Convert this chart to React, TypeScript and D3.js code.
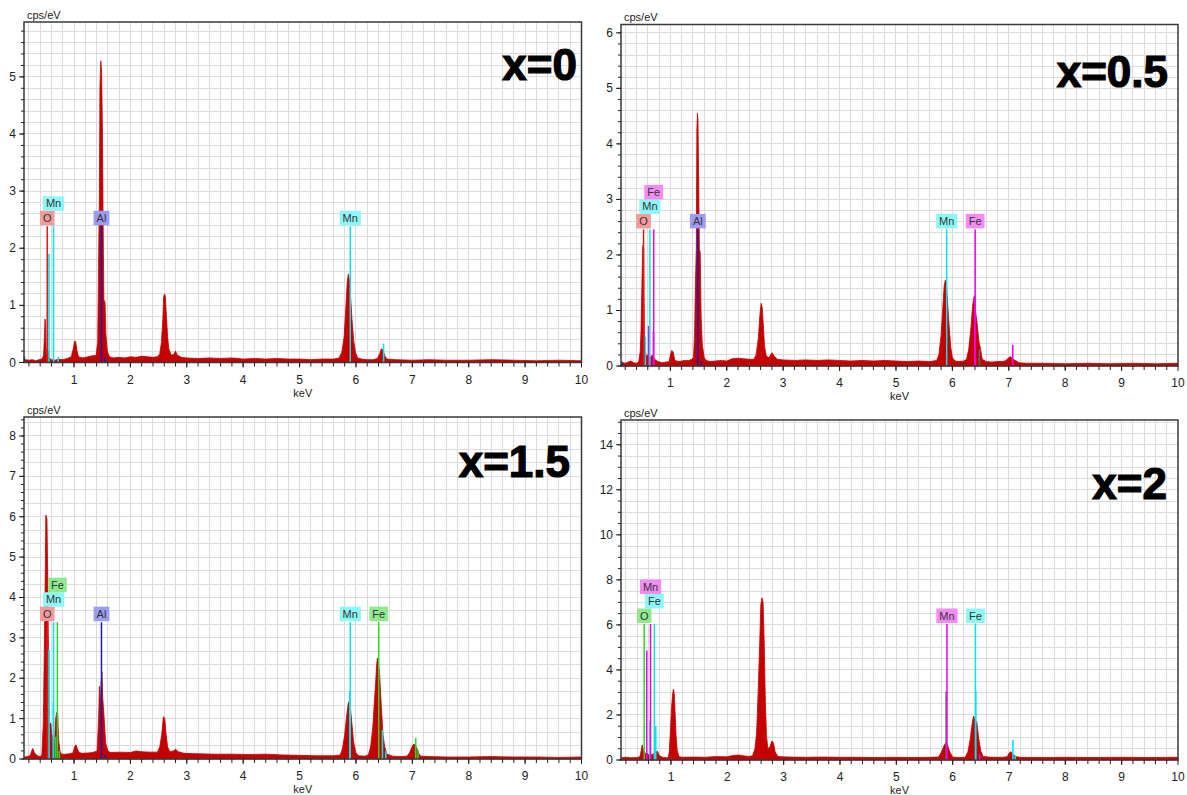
import React from "react";
import * as d3 from "d3";

type Pt = [number, number];
type Fit = [string, number, number];
type Mark = [string, number, number];

// ---- spectra: [keV, cps/eV] ----
const S0: Pt[] = [[0.113,0.02],[0.14,0.05],[0.2,0.04],[0.26,0.05],[0.32,0.03],[0.38,0.05],[0.43,0.06],[0.46,0.12],[0.475,0.45],[0.485,0.76],[0.495,0.7],[0.505,0.25],[0.52,0.12],[0.54,0.22],[0.56,0.08],[0.6,0.05],[0.66,0.04],[0.72,0.06],[0.8,0.05],[0.88,0.07],[0.95,0.1],[0.99,0.25],[1.01,0.38],[1.03,0.36],[1.05,0.22],[1.08,0.1],[1.15,0.08],[1.25,0.1],[1.33,0.12],[1.39,0.12],[1.42,0.35],[1.435,1.7],[1.45,2.9],[1.46,4.84],[1.475,5.28],[1.49,5.08],[1.505,3.95],[1.52,2.0],[1.53,1.1],[1.55,1.05],[1.565,0.5],[1.59,0.2],[1.63,0.1],[1.7,0.08],[1.8,0.09],[1.9,0.08],[2.0,0.1],[2.1,0.09],[2.2,0.11],[2.3,0.1],[2.4,0.09],[2.48,0.1],[2.52,0.15],[2.55,0.35],[2.575,0.75],[2.59,1.15],[2.605,1.2],[2.62,1.15],[2.64,0.8],[2.66,0.45],[2.68,0.25],[2.72,0.13],[2.77,0.14],[2.8,0.2],[2.83,0.13],[2.9,0.09],[3.0,0.08],[3.2,0.07],[3.4,0.08],[3.6,0.07],[3.8,0.08],[4.0,0.06],[4.2,0.07],[4.4,0.06],[4.6,0.07],[4.8,0.06],[5.0,0.06],[5.2,0.05],[5.4,0.06],[5.6,0.06],[5.7,0.08],[5.75,0.18],[5.79,0.45],[5.82,0.95],[5.845,1.4],[5.865,1.55],[5.885,1.45],[5.905,1.15],[5.93,0.75],[5.96,0.38],[5.99,0.18],[6.03,0.08],[6.1,0.06],[6.2,0.05],[6.3,0.05],[6.38,0.07],[6.42,0.15],[6.45,0.24],[6.48,0.22],[6.51,0.12],[6.55,0.06],[6.7,0.05],[7.0,0.04],[7.3,0.05],[7.6,0.04],[8.0,0.04],[8.4,0.05],[8.8,0.04],[9.2,0.03],[9.6,0.04],[10,0.03]];

const S1: Pt[] = [[0.125,0.03],[0.16,0.06],[0.2,0.05],[0.25,0.07],[0.3,0.09],[0.35,0.06],[0.4,0.05],[0.44,0.08],[0.465,0.25],[0.48,0.63],[0.495,1.43],[0.51,2.15],[0.525,2.2],[0.54,0.5],[0.555,0.3],[0.57,0.18],[0.6,0.2],[0.64,0.15],[0.68,0.2],[0.72,0.12],[0.78,0.08],[0.85,0.06],[0.92,0.07],[0.98,0.08],[1.0,0.2],[1.025,0.28],[1.05,0.25],[1.08,0.1],[1.15,0.08],[1.25,0.1],[1.33,0.1],[1.38,0.12],[1.41,0.15],[1.43,0.6],[1.445,1.5],[1.46,2.1],[1.47,4.25],[1.48,4.55],[1.49,4.42],[1.5,3.5],[1.515,2.1],[1.53,2.05],[1.545,0.9],[1.565,0.4],[1.6,0.15],[1.64,0.1],[1.7,0.08],[1.8,0.09],[1.9,0.1],[2.0,0.09],[2.1,0.13],[2.2,0.14],[2.3,0.13],[2.4,0.12],[2.48,0.12],[2.52,0.2],[2.56,0.5],[2.59,0.95],[2.61,1.13],[2.63,1.05],[2.65,0.7],[2.67,0.35],[2.7,0.18],[2.75,0.15],[2.8,0.24],[2.84,0.18],[2.9,0.12],[3.0,0.11],[3.2,0.1],[3.4,0.11],[3.6,0.1],[3.8,0.11],[4.0,0.1],[4.2,0.09],[4.4,0.1],[4.6,0.09],[4.8,0.1],[5.0,0.09],[5.2,0.08],[5.4,0.09],[5.6,0.08],[5.72,0.1],[5.76,0.2],[5.8,0.55],[5.83,1.05],[5.855,1.45],[5.875,1.55],[5.895,1.45],[5.915,1.15],[5.94,0.75],[5.97,0.35],[6.0,0.15],[6.05,0.09],[6.12,0.08],[6.2,0.09],[6.25,0.12],[6.29,0.3],[6.33,0.7],[6.36,1.1],[6.385,1.25],[6.41,1.0],[6.44,0.75],[6.47,0.45],[6.5,0.3],[6.53,0.12],[6.6,0.08],[6.7,0.07],[6.8,0.08],[6.9,0.08],[6.95,0.1],[7.0,0.15],[7.03,0.17],[7.07,0.12],[7.12,0.1],[7.18,0.06],[7.3,0.05],[7.6,0.05],[8.0,0.04],[8.4,0.05],[8.8,0.04],[9.2,0.05],[9.6,0.04],[10,0.05]];

const S2: Pt[] = [[0.113,0.04],[0.16,0.06],[0.22,0.08],[0.25,0.2],[0.27,0.26],[0.3,0.15],[0.35,0.08],[0.4,0.06],[0.43,0.1],[0.456,0.92],[0.47,2.35],[0.49,4.5],[0.5,6.04],[0.52,5.95],[0.535,4.4],[0.55,2.2],[0.565,0.9],[0.59,0.88],[0.61,0.4],[0.625,0.6],[0.65,0.2],[0.67,0.95],[0.69,1.15],[0.71,1.15],[0.725,0.5],[0.75,0.2],[0.78,0.12],[0.85,0.12],[0.92,0.13],[0.98,0.15],[1.01,0.3],[1.035,0.35],[1.06,0.25],[1.09,0.16],[1.15,0.14],[1.25,0.15],[1.33,0.16],[1.41,0.2],[1.43,0.8],[1.44,1.15],[1.45,1.8],[1.465,1.2],[1.48,1.9],[1.495,2.16],[1.51,1.5],[1.525,1.2],[1.54,0.9],[1.56,0.4],[1.6,0.2],[1.65,0.16],[1.8,0.17],[2.0,0.16],[2.1,0.2],[2.2,0.18],[2.35,0.17],[2.48,0.17],[2.52,0.3],[2.555,0.6],[2.585,1.05],[2.61,1.0],[2.63,0.65],[2.66,0.3],[2.7,0.18],[2.76,0.2],[2.8,0.24],[2.85,0.18],[2.95,0.14],[3.2,0.13],[3.5,0.12],[3.8,0.12],[4.1,0.11],[4.4,0.12],[4.7,0.1],[5.0,0.09],[5.3,0.08],[5.6,0.08],[5.72,0.1],[5.76,0.25],[5.8,0.6],[5.83,1.0],[5.86,1.35],[5.875,1.42],[5.9,1.3],[5.93,0.85],[5.96,0.4],[6.0,0.15],[6.05,0.08],[6.15,0.07],[6.22,0.1],[6.26,0.3],[6.3,0.8],[6.33,1.5],[6.35,1.9],[6.365,2.3],[6.38,2.5],[6.4,2.4],[6.42,2.1],[6.45,1.3],[6.48,0.6],[6.51,0.3],[6.55,0.12],[6.65,0.07],[6.8,0.06],[6.9,0.07],[6.95,0.15],[7.0,0.32],[7.03,0.37],[7.07,0.3],[7.11,0.15],[7.15,0.07],[7.3,0.06],[7.6,0.05],[8.0,0.05],[8.4,0.06],[8.8,0.05],[9.2,0.05],[9.6,0.04],[10,0.05]];

const S3: Pt[] = [[0.113,0.1],[0.2,0.12],[0.3,0.1],[0.4,0.11],[0.45,0.15],[0.47,0.4],[0.49,0.67],[0.51,0.4],[0.54,0.3],[0.575,0.3],[0.62,0.2],[0.67,0.25],[0.72,0.3],[0.76,0.4],[0.79,0.2],[0.85,0.12],[0.92,0.1],[0.95,0.1],[0.97,0.35],[0.99,1.3],[1.01,2.3],[1.03,2.95],[1.045,3.15],[1.06,2.9],[1.075,2.0],[1.09,1.1],[1.11,0.45],[1.14,0.15],[1.2,0.12],[1.4,0.13],[1.6,0.12],[1.8,0.15],[2.0,0.14],[2.1,0.2],[2.2,0.22],[2.3,0.18],[2.4,0.16],[2.45,0.2],[2.49,0.5],[2.52,1.2],[2.55,3.2],[2.575,5.2],[2.595,6.9],[2.615,7.2],[2.635,7.0],[2.655,5.2],[2.675,2.6],[2.695,1.1],[2.72,0.5],[2.76,0.6],[2.79,0.84],[2.82,0.75],[2.85,0.35],[2.9,0.15],[3.1,0.13],[3.4,0.12],[3.7,0.13],[4.0,0.12],[4.3,0.12],[4.6,0.11],[5.0,0.12],[5.3,0.11],[5.6,0.12],[5.75,0.13],[5.8,0.35],[5.85,0.65],[5.88,0.77],[5.91,0.65],[5.95,0.35],[6.0,0.13],[6.1,0.11],[6.22,0.12],[6.27,0.35],[6.31,0.9],[6.34,1.5],[6.37,1.95],[6.4,1.8],[6.43,1.66],[6.46,1.0],[6.5,0.4],[6.54,0.15],[6.7,0.12],[6.9,0.12],[6.97,0.15],[7.0,0.3],[7.03,0.37],[7.07,0.25],[7.12,0.15],[7.2,0.12],[7.6,0.11],[8.0,0.12],[8.5,0.11],[9.0,0.12],[9.5,0.11],[10,0.12]];

// ---- fitted element lines: [element, keV, cps/eV] ----
const F0: Fit[] = [["Mn",0.556,1.9],["Mn",0.72,0.1],["Mn",6.49,0.33],["Al",0.12,0.1],["Al",1.55,0.1]];
const F1: Fit[] = [["Mn",0.556,0.53],["Fe",0.615,0.72],["Fe",0.7,0.62],["Fe",6.4,1.27],["X",6.48,0.3],["Fe",7.07,0.38],["Al",0.14,0.08],["Al",1.55,0.08]];
const F2: Fit[] = [["Mn",0.557,2.72],["Mn",0.633,1.4],["Fe",0.675,0.55],["Fe",0.74,0.2],["Mn",5.89,1.68],["Mn",6.47,0.72],["Mn",6.53,0.2],["Fe",7.06,0.52],["Fe",7.1,0.22],["Al",1.55,0.1]];
const F3: Fit[] = [["Mn",0.57,4.86],["Fe",0.628,1.75],["Fe",0.73,1.5],["X",5.885,3.04],["Fe",6.41,3.07],["Mn",6.48,0.25],["Fe",7.07,0.89],["Fe",7.11,0.2]];

// ---- element markers: [element, keV, stack level] ----
const M0: Mark[] = [["O",0.525,0],["Mn",0.637,1],["Al",1.487,0],["Mn",5.899,0]];
const M1: Mark[] = [["O",0.525,0],["Mn",0.637,1],["Fe",0.705,2],["Al",1.487,0],["Mn",5.899,0],["Fe",6.404,0]];
const M2: Mark[] = [["O",0.525,0],["Mn",0.637,1],["Fe",0.705,2],["Al",1.487,0],["Mn",5.899,0],["Fe",6.404,0]];
const M3: Mark[] = [["O",0.525,0],["Fe",0.705,1],["Mn",0.637,2],["Mn",5.899,0],["Fe",6.404,0]];

const X_TICKS = [1,2,3,4,5,6,7,8,9,10];
const Y_TICKS0 = [0,1,2,3,4,5];
const Y_TICKS1 = [0,1,2,3,4,5,6];
const Y_TICKS2 = [0,1,2,3,4,5,6,7,8];
const Y_TICKS3 = [0,2,4,6,8,10,12,14];
const TITLES = ["x=0","x=0.5","x=1.5","x=2"];

// ---- styles ----
const RED = { line: "#e01818", box: "#f39a9a" };
const CYAN = { line: "#00e6f0", box: "#8ef8f8" };
const BLUE = { line: "#1c1cb4", box: "#9c9cf2" };
const MAG = { line: "#f000f0", box: "#f38cf3" };
const GRN = { line: "#26dc26", box: "#8fea8f" };
const GRAY = { line: "#666666", box: "#cccccc" };

const CW: Record<string, number> = { O: 0.778, M: 0.833, n: 0.556, A: 0.667, l: 0.222, F: 0.611, e: 0.556 };

interface Cfg {
  left: number; right: number; top: number; bottom: number;
  xMin: number; yMax: number; yMinor: number; gridY: number;
  yTicks: number[]; spec: Pt[]; fits: Fit[]; marks: Mark[];
  colors: Record<string, { line: string; box: string }>;
  title: string; titleRight: number; titleBase: number;
}

const PANELS: Cfg[] = [
  { left: 24, right: 581.5, top: 22, bottom: 362.5, xMin: 0.113, yMax: 5.96, yMinor: 0.2, gridY: 0.2,
    yTicks: Y_TICKS0, spec: S0, fits: F0, marks: M0,
    colors: { O: RED, Mn: CYAN, Al: BLUE, X: GRAY }, title: TITLES[0], titleRight: 577, titleBase: 80 },
  { left: 621, right: 1178, top: 24.5, bottom: 366, xMin: 0.125, yMax: 6.15, yMinor: 0.2, gridY: 0.2,
    yTicks: Y_TICKS1, spec: S1, fits: F1, marks: M1,
    colors: { O: RED, Mn: CYAN, Fe: MAG, Al: BLUE, X: GRAY }, title: TITLES[1], titleRight: 1168, titleBase: 87 },
  { left: 24, right: 581.5, top: 417, bottom: 759, xMin: 0.113, yMax: 8.47, yMinor: 0.2, gridY: 1 / 3,
    yTicks: Y_TICKS2, spec: S2, fits: F2, marks: M2,
    colors: { O: RED, Mn: CYAN, Fe: GRN, Al: BLUE, X: GRAY }, title: TITLES[2], titleRight: 570, titleBase: 477 },
  { left: 621, right: 1178, top: 420, bottom: 760, xMin: 0.113, yMax: 15.1, yMinor: 0.5, gridY: 0.5,
    yTicks: Y_TICKS3, spec: S3, fits: F3, marks: M3,
    colors: { O: GRN, Mn: MAG, Fe: CYAN, X: GRAY }, title: TITLES[3], titleRight: 1167, titleBase: 499 },
];

const FONT = "'Liberation Sans', Arial, sans-serif";

function Panel({ c }: { c: Cfg }) {
  const x = d3.scaleLinear().domain([c.xMin, 10]).range([c.left, c.right]);
  const y = d3.scaleLinear().domain([0, c.yMax]).range([c.bottom, c.top]);
  const area = d3.area<Pt>().x(d => x(d[0])).y0(y(0)).y1(d => y(d[1])).curve(d3.curveLinear);

  const xs02 = d3.range(1, 50).map(i => +(i * 0.2).toFixed(3)).filter(v => v > c.xMin);
  const nGy = Math.floor(c.yMax / c.gridY + 1e-6);
  const gridYs = d3.range(1, nGy + 1).map(i => i * c.gridY).filter(v => v < c.yMax - 1e-6);
  const nMy = Math.floor(c.yMax / c.yMinor + 1e-6);
  const minorY = d3.range(0, nMy + 1).map(i => i * c.yMinor);
  const markVal = c.yMax * 0.4;
  const boxH = 14.5;

  return (
    <g>
      <g stroke="#dcdcdc" strokeWidth={1} shapeRendering="crispEdges">
        {xs02.map((v, i) => <line key={"gx" + i} x1={x(v)} x2={x(v)} y1={c.top} y2={c.bottom} />)}
        {gridYs.map((v, i) => <line key={"gy" + i} x1={c.left} x2={c.right} y1={y(v)} y2={y(v)} />)}
      </g>
      <path d={area(c.spec) || ""} fill="#c40000" stroke="#c40000" strokeWidth={0.8} />
      {c.fits.map((f, i) => (
        <line key={"f" + i} x1={x(f[1])} x2={x(f[1])} y1={y(0)} y2={y(f[2])}
          stroke={(c.colors[f[0]] || GRAY).line} strokeWidth={1.6} />
      ))}
      {c.marks.map((m, i) => (
        <line key={"m" + i} x1={x(m[1])} x2={x(m[1])} y1={y(0)} y2={y(markVal)}
          stroke={c.colors[m[0]].line} strokeWidth={1.5} />
      ))}
      {c.marks.map((m, i) => {
        const tw = m[0].split("").reduce((s, ch) => s + (CW[ch] || 0.6), 0) * 11;
        const w = tw + 6;
        const bb = y(markVal) - 1 - m[2] * boxH;
        const cx = x(m[1]);
        return (
          <g key={"b" + i}>
            <rect x={cx - w / 2} y={bb - boxH} width={w} height={boxH} fill={c.colors[m[0]].box} />
            <text x={cx} y={bb - 3.5} textAnchor="middle" fontSize={11} fontFamily={FONT} fill="#333">{m[0]}</text>
          </g>
        );
      })}
      <rect x={c.left} y={c.top} width={c.right - c.left} height={c.bottom - c.top} fill="none" stroke="#3a3a3a" strokeWidth={1.5} />
      <g stroke="#222" strokeWidth={1}>
        {minorY.map((v, i) => <line key={"my" + i} x1={c.left - 3} x2={c.left} y1={y(v)} y2={y(v)} />)}
        {c.yTicks.map((v, i) => <line key={"My" + i} x1={c.left - 5} x2={c.left} y1={y(v)} y2={y(v)} />)}
      </g>
      {c.yTicks.map((v, i) => (
        <text key={"ly" + i} x={c.left - 8} y={y(v) + 4} textAnchor="end" fontSize={12} fontFamily={FONT} fill="#222">{v}</text>
      ))}
      <g stroke="#222" strokeWidth={1}>
        {xs02.map((v, i) => <line key={"mx" + i} x1={x(v)} x2={x(v)} y1={c.bottom} y2={c.bottom + 4} />)}
        {X_TICKS.map((v, i) => <line key={"Mx" + i} x1={x(v)} x2={x(v)} y1={c.bottom} y2={c.bottom + 5} />)}
      </g>
      {X_TICKS.map((v, i) => (
        <text key={"lx" + i} x={x(v)} y={c.bottom + 21} textAnchor="middle" fontSize={12} fontFamily={FONT} fill="#222">{v}</text>
      ))}
      <text x={(c.left + c.right) / 2} y={c.bottom + 34} textAnchor="middle" fontSize={11} fontFamily={FONT} fill="#222">keV</text>
      <text x={c.left + 3} y={c.top - 3.5} fontSize={11} fontFamily={FONT} fill="#222">cps/eV</text>
      <text x={c.titleRight} y={c.titleBase} textAnchor="end" fontSize={44} fontWeight="bold" fontFamily={FONT}
        fill="#000" stroke="#000" strokeWidth={1.2}>{c.title}</text>
    </g>
  );
}

export default function App() {
  return (
    <svg width={1187} height={795} style={{ position: "absolute", left: 0, top: 0, background: "#fff" }}>
      <rect x={0} y={0} width={1187} height={795} fill="#fff" />
      {PANELS.map((c, i) => <Panel key={i} c={c} />)}
    </svg>
  );
}
